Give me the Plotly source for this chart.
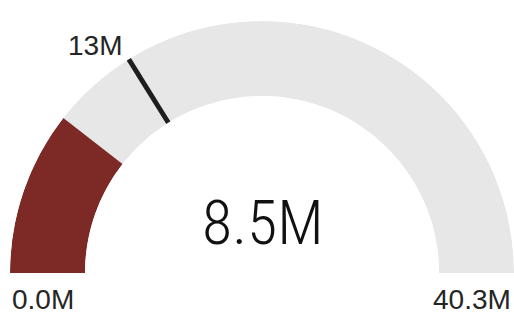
import plotly.graph_objects as go

# Gauge data
gauge_min = 0.0
gauge_max = 40.3
value = 8.5
target = 13.0

value_label = "8.5M"
target_label = "13M"
min_label = "0.0M"
max_label = "40.3M"

fill_color = "#7d2a27"
track_color = "#e7e7e7"
target_color = "#1e1e1e"


def to_deg(v):
    """Map a gauge value onto the 0-180 degree sweep."""
    return 180.0 * (v - gauge_min) / (gauge_max - gauge_min)


W, H = 514, 327
# polar domain in pixels: half-disc spanning x 10..514, y 21..273
x0, x1 = 10, 514
y_top, y_bot = 21, 273

fig = go.Figure()

# background track
fig.add_trace(go.Barpolar(
    r=[1], theta=[90], width=[180], base=0,
    marker=dict(color=track_color, line=dict(width=0)),
    hoverinfo="skip", showlegend=False,
))

# value fill
v_deg = to_deg(value)
fig.add_trace(go.Barpolar(
    r=[1], theta=[v_deg / 2], width=[v_deg], base=0,
    marker=dict(color=fill_color, line=dict(width=0)),
    hoverinfo="skip", showlegend=False,
))

# target marker
t_deg = to_deg(target)
fig.add_trace(go.Scatterpolar(
    r=[0, 1], theta=[t_deg, t_deg], mode="lines",
    line=dict(color=target_color, width=4.8),
    hoverinfo="skip", showlegend=False,
))

fig.update_layout(
    width=W, height=H,
    margin=dict(l=0, r=0, t=0, b=0),
    paper_bgcolor="white",
    showlegend=False,
    polar=dict(
        domain=dict(x=[x0 / W, x1 / W], y=[(H - y_bot) / H, (H - y_top) / H]),
        sector=[0, 180],
        hole=177 / 252,
        bgcolor="white",
        radialaxis=dict(range=[0, 1], visible=False, showgrid=False),
        angularaxis=dict(rotation=180, direction="clockwise", visible=False,
                         showgrid=False, thetaunit="degrees"),
    ),
)

label_font = dict(family="Liberation Sans, Arial, sans-serif", size=28, color="#252525")

fig.add_annotation(x=263 / W, y=(H - 251) / H, xref="paper", yref="paper",
                   xanchor="center", yanchor="bottom", yshift=-10,
                   text=value_label, showarrow=False,
                   font=dict(family="Roboto Condensed", size=62, weight=300, color="#111111"))

fig.add_annotation(x=124 / W, y=(H - 56) / H, xref="paper", yref="paper",
                   xanchor="right", yanchor="bottom", yshift=-7,
                   text=target_label, showarrow=False, font=label_font)

fig.add_annotation(x=10 / W, y=(H - 310) / H, xref="paper", yref="paper",
                   xanchor="left", yanchor="bottom", yshift=-7,
                   text=min_label, showarrow=False, font=label_font)

fig.add_annotation(x=513 / W, y=(H - 310) / H, xref="paper", yref="paper",
                   xanchor="right", yanchor="bottom", yshift=-7,
                   text=max_label, showarrow=False, font=label_font)

fig.write_html("out.html")
